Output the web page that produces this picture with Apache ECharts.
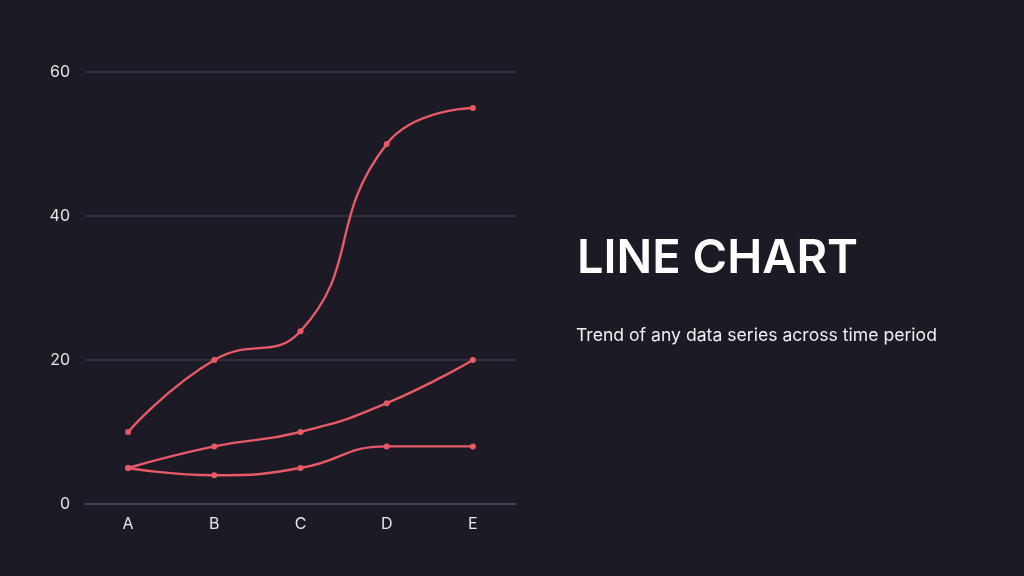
<!DOCTYPE html>
<html><head><meta charset="utf-8">
<script src="https://cdn.jsdelivr.net/npm/echarts@6/dist/echarts.min.js"></script>
<style>html,body{margin:0;padding:0;background:#1b1a25;}#c{width:1024px;height:576px;}</style>
</head><body><div id="c"></div>
<script>
const categories = ['A', 'B', 'C', 'D', 'E'];
const series1 = [10, 20, 24, 50, 55];
const series2 = [5, 8, 10, 14, 20];
const series3 = [5, 4, 5, 8, 8];
const yTicks = [0, 20, 40, 60];
const titleText = 'LINE CHART';
const subText = 'Trend of any data series across time period';

const lineColor = '#e85a67';
function mk(name, data) {
  return {
    name, type: 'line', data, smooth: 0.5,
    symbol: 'circle', symbolSize: 6,
    lineStyle: { color: lineColor, width: 2.4 },
    itemStyle: { color: lineColor }
  };
}
const chart = echarts.init(document.getElementById('c'), null, { renderer: 'canvas' });
chart.setOption({
  backgroundColor: '#1b1a25',
  animation: false,
  title: [
    { text: titleText, left: 572, top: 230,
      textStyle: { color: '#ffffff', fontSize: 47, fontWeight: 600, fontFamily: 'Inter' } },
    { text: subText, left: 571, top: 322,
      textStyle: { color: '#f0f0f0', fontSize: 17.6, fontWeight: 'normal', fontFamily: 'Inter' } }
  ],
  grid: { left: 85, right: 508, top: 72, bottom: 72 },
  xAxis: {
    type: 'category', data: categories, boundaryGap: true,
    axisLine: { lineStyle: { color: '#4a4955', width: 1.5 } },
    axisTick: { show: false },
    axisLabel: { color: '#e6e6e6', fontSize: 16, margin: 12, fontFamily: 'Inter' }
  },
  yAxis: {
    type: 'value', min: yTicks[0], max: yTicks[yTicks.length - 1], interval: 20,
    axisLine: { show: false }, axisTick: { show: false },
    splitLine: { lineStyle: { color: '#393844', width: 1.5 } },
    axisLabel: { color: '#e6e6e6', fontSize: 16, margin: 15, fontFamily: 'Inter' }
  },
  series: [mk('s1', series1), mk('s2', series2), mk('s3', series3)]
});
</script></body></html>
